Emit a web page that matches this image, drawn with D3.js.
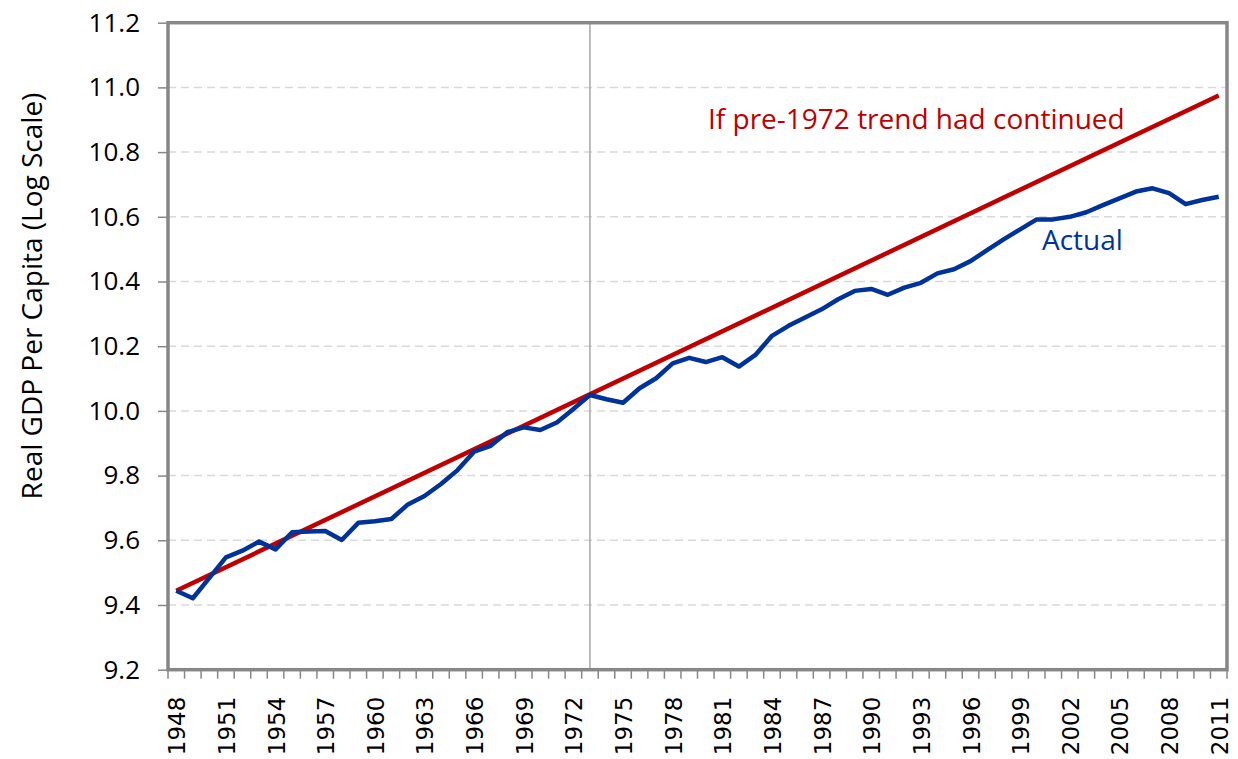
<!DOCTYPE html>
<html>
<head>
<meta charset="utf-8">
<script src="https://d3js.org/d3.v7.min.js"></script>
<style>
  body { margin: 0; background: white; }
  svg { display: block; }
</style>
</head>
<body>
<svg width="1238" height="759"></svg>
<script>
// years on the category axis
const years = d3.range(1948, 2012)
// log of real GDP per capita
const actual = [9.444, 9.421, 9.484, 9.547, 9.568, 9.596, 9.572, 9.625, 9.627, 9.629,
  9.601, 9.654, 9.659, 9.666, 9.711, 9.737, 9.774, 9.817, 9.874, 9.892,
  9.934, 9.949, 9.941, 9.964, 10.006, 10.049, 10.036, 10.025, 10.070, 10.101,
  10.147, 10.164, 10.151, 10.166, 10.137, 10.173, 10.232, 10.263, 10.289, 10.314,
  10.345, 10.371, 10.377, 10.359, 10.381, 10.396, 10.425, 10.438, 10.463, 10.497,
  10.530, 10.561, 10.592, 10.592, 10.600, 10.614, 10.636, 10.657, 10.678, 10.688,
  10.673, 10.639, 10.652, 10.662]
// straight trend line: start and end points
const trendYears = [1948, 2011]
const trendValues = [9.444, 10.975]
const yTicks = [9.2, 9.4, 9.6, 9.8, 10.0, 10.2, 10.4, 10.6, 10.8, 11.0, 11.2]
const xLabelYears = d3.range(1948, 2012, 3)
const breakYear = 1973

const plotL = 168, plotR = 1227, plotT = 22.7, plotB = 669.7;
const gray = "#878787", red = "#C00000", blue = "#003399";

var svg = d3.select("svg");

var x = d3.scaleBand().domain(years).range([plotL, plotR]).padding(0);
var y = d3.scaleLinear().domain([9.2, 11.2]).range([plotB, plotT]);
function cx(yr){ return x(yr) + x.bandwidth() / 2; }

// dashed gridlines
svg.selectAll(".grid")
  .data(yTicks.slice(1, -1))
  .enter().append("line")
  .attr("class", "grid")
  .attr("x1", plotL).attr("x2", plotR)
  .attr("y1", d => y(d)).attr("y2", d => y(d))
  .attr("stroke", "#D9D9D9")
  .attr("stroke-width", 1.5)
  .attr("stroke-dasharray", "8,5");

// y axis ticks + labels
var yAxis = svg.append("g")
  .attr("transform", "translate(" + plotL + ",0)")
  .call(d3.axisLeft(y).tickValues(yTicks).tickFormat(d3.format(".1f")).tickSize(10).tickPadding(18));
yAxis.select(".domain").remove();
yAxis.selectAll("line").attr("stroke", gray).attr("stroke-width", 1.5);
yAxis.selectAll("text")
  .attr("font-family", "'Open Sans', sans-serif")
  .attr("font-size", 26)
  .attr("fill", "#000");

// x ticks sit on category boundaries
svg.selectAll(".xtick")
  .data(years.concat([2012]))
  .enter().append("line")
  .attr("class", "xtick")
  .attr("x1", d => d === 2012 ? plotR : x(d))
  .attr("x2", d => d === 2012 ? plotR : x(d))
  .attr("y1", plotB).attr("y2", plotB + 9)
  .attr("stroke", gray).attr("stroke-width", 1.5);

svg.selectAll(".xlabel")
  .data(xLabelYears)
  .enter().append("text")
  .attr("class", "xlabel")
  .attr("transform", d => "translate(" + (cx(d) + 9) + "," + (plotB + 27) + ") rotate(-90)")
  .attr("text-anchor", "end")
  .attr("font-family", "'DejaVu Sans', sans-serif")
  .attr("font-size", 23)
  .attr("fill", "#000")
  .text(d => d);

// vertical marker at 1973
svg.append("line")
  .attr("x1", cx(breakYear)).attr("x2", cx(breakYear))
  .attr("y1", plotT).attr("y2", plotB)
  .attr("stroke", "#A6A6A6").attr("stroke-width", 1.5);

var line = d3.line().x(d => cx(d[0])).y(d => y(d[1]));

svg.append("path")
  .datum(d3.zip(trendYears, trendValues))
  .attr("d", line)
  .attr("fill", "none")
  .attr("stroke", red)
  .attr("stroke-width", 4.5);

svg.append("path")
  .datum(d3.zip(years, actual))
  .attr("d", line)
  .attr("fill", "none")
  .attr("stroke", blue)
  .attr("stroke-width", 4.5)
  .attr("stroke-linejoin", "round");

// plot frame
svg.append("rect")
  .attr("x", plotL).attr("y", plotT)
  .attr("width", plotR - plotL).attr("height", plotB - plotT)
  .attr("fill", "none")
  .attr("stroke", gray)
  .attr("stroke-width", 3.5);

// annotations
svg.append("text")
  .attr("x", 708).attr("y", 129)
  .attr("font-family", "'Open Sans', sans-serif")
  .attr("font-size", 28)
  .attr("fill", red)
  .text("If pre-1972 trend had continued");

svg.append("text")
  .attr("x", 1042).attr("y", 250)
  .attr("font-family", "'Open Sans', sans-serif")
  .attr("font-size", 28)
  .attr("fill", blue)
  .text("Actual");

svg.append("text")
  .attr("transform", "translate(42," + 296 + ") rotate(-90)")
  .attr("text-anchor", "middle")
  .attr("font-family", "'Open Sans', sans-serif")
  .attr("font-size", 28)
  .attr("fill", "#000")
  .text("Real GDP Per Capita (Log Scale)");
</script>
</body>
</html>
